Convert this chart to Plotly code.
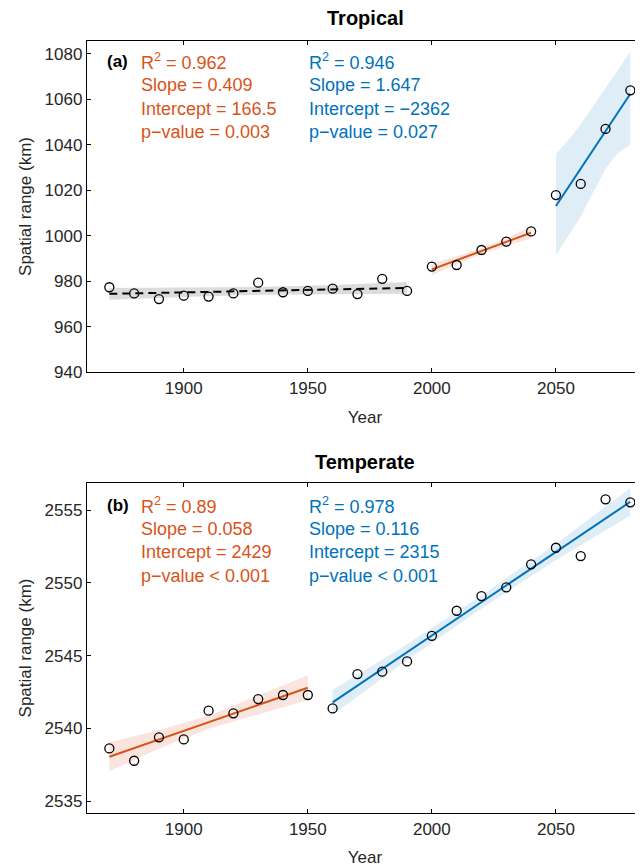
import plotly.graph_objects as go

# ---------------- data ----------------
years = [1870, 1880, 1890, 1900, 1910, 1920, 1930, 1940, 1950, 1960, 1970,
         1980, 1990, 2000, 2010, 2020, 2030, 2040, 2050, 2060, 2070, 2080]

tropical = [977.3, 974.6, 972.1, 973.6, 973.2, 974.6, 979.3, 975.1, 975.7, 976.7, 974.3,
            981.0, 975.7, 986.4, 987.1, 993.7, 997.4, 1001.9, 1017.9, 1022.8, 1047.0, 1064.0]

temperate = [2538.62, 2537.77, 2539.38, 2539.24, 2541.21, 2541.03, 2542.01, 2542.29, 2542.29,
             2541.37, 2543.73, 2543.89, 2544.60, 2546.36, 2548.08, 2549.09, 2549.69, 2551.27,
             2552.41, 2551.84, 2555.74, 2555.53]

# fitted lines (end points) and confidence bands, tropical panel
trop_gray_fit_x = [1870, 1990]
trop_gray_fit_y = [974.4, 977.0]
trop_gray_band_x = [1870, 1900, 1930, 1960, 1990]
trop_gray_band_hi = [977.0, 977.05, 977.4, 978.35, 979.6]
trop_gray_band_lo = [971.8, 973.05, 974.0, 974.35, 974.4]

trop_orange_fit_x = [2000, 2040]
trop_orange_fit_y = [985.2, 1001.3]
trop_orange_band_x = [2000, 2010, 2020, 2030, 2040]
trop_orange_band_hi = [987.8, 990.9, 994.55, 999.0, 1003.9]
trop_orange_band_lo = [982.6, 987.5, 991.95, 995.6, 998.7]

trop_blue_fit_x = [2050, 2080]
trop_blue_fit_y = [1013.1, 1062.5]
trop_blue_band_x = [2050, 2055, 2060, 2065, 2070, 2075, 2080]
trop_blue_band_hi = [1036.0, 1042.0, 1049.0, 1057.0, 1065.0, 1073.0, 1081.0]
trop_blue_band_lo = [991.5, 1000.0, 1008.5, 1019.0, 1029.5, 1036.5, 1040.0]

# temperate panel
temp_orange_fit_x = [1870, 1950]
temp_orange_fit_y = [2538.05, 2542.79]
temp_orange_band_x = [1870, 1890, 1910, 1930, 1950]
temp_orange_band_hi = [2539.05, 2539.89, 2540.87, 2542.25, 2543.64]
temp_orange_band_lo = [2537.05, 2538.59, 2539.97, 2540.95, 2541.94]

temp_blue_fit_x = [1960, 2080]
temp_blue_fit_y = [2541.78, 2555.57]
temp_blue_band_x = [1960, 1990, 2020, 2050, 2080]
temp_blue_band_hi = [2542.63, 2545.78, 2549.13, 2552.67, 2556.52]
temp_blue_band_lo = [2540.93, 2544.68, 2548.23, 2551.57, 2554.62]

trop_stats_orange = ["R<sup>2</sup> = 0.962", "Slope = 0.409", "Intercept = 166.5", "p\u2212value = 0.003"]
trop_stats_blue = ["R<sup>2</sup> = 0.946", "Slope = 1.647", "Intercept = \u22122362", "p\u2212value = 0.027"]
temp_stats_orange = ["R<sup>2</sup> = 0.89", "Slope = 0.058", "Intercept = 2429", "p\u2212value < 0.001"]
temp_stats_blue = ["R<sup>2</sup> = 0.978", "Slope = 0.116", "Intercept = 2315", "p\u2212value < 0.001"]

x_ticks = [1900, 1950, 2000, 2050]
trop_ticks = [940, 960, 980, 1000, 1020, 1040, 1060, 1080]
temp_ticks = [2535, 2540, 2545, 2550, 2555]

# ---------------- styling ----------------
ORANGE = "#D95319"
BLUE = "#0072BD"
FONT = "Liberation Sans, Arial, sans-serif"
OFF = 8                      # page body margin of the browser
W, H = 643 - OFF, 867 - OFF
ML, MR, MT, MB = 87 - OFF, 0, 41 - OFF, 54
PW, PH = W - ML - MR, H - MT - MB


def px_x(p):
    return (p - OFF - ML) / PW


def px_y(p):
    return (H - MB - (p - OFF)) / PH


fig = go.Figure()


def band(x, hi, lo, color, xa, ya):
    fig.add_trace(go.Scatter(x=x + x[::-1], y=hi + lo[::-1], fill="toself",
                             fillcolor=color, line=dict(width=0), mode="lines",
                             hoverinfo="skip", showlegend=False, xaxis=xa, yaxis=ya))


def fit(x, y, color, xa, ya, dash="solid"):
    fig.add_trace(go.Scatter(x=x, y=y, mode="lines", line=dict(color=color, width=2, dash=dash),
                             showlegend=False, xaxis=xa, yaxis=ya))


# Tropical panel
band(trop_gray_band_x, trop_gray_band_hi, trop_gray_band_lo, "#DCDCDC", "x", "y")
band(trop_orange_band_x, trop_orange_band_hi, trop_orange_band_lo, "rgba(217,83,25,0.15)", "x", "y")
band(trop_blue_band_x, trop_blue_band_hi, trop_blue_band_lo, "rgba(0,114,189,0.13)", "x", "y")
fit(trop_gray_fit_x, trop_gray_fit_y, "black", "x", "y", dash="8px,5px")
fit(trop_orange_fit_x, trop_orange_fit_y, ORANGE, "x", "y")
fit(trop_blue_fit_x, trop_blue_fit_y, BLUE, "x", "y")
fig.add_trace(go.Scatter(x=years, y=tropical, mode="markers",
                         marker=dict(symbol="circle-open", size=9, color="black", line=dict(width=1.3)),
                         showlegend=False, xaxis="x", yaxis="y"))

# Temperate panel
band(temp_orange_band_x, temp_orange_band_hi, temp_orange_band_lo, "rgba(217,83,25,0.15)", "x2", "y2")
band(temp_blue_band_x, temp_blue_band_hi, temp_blue_band_lo, "rgba(0,114,189,0.13)", "x2", "y2")
fit(temp_orange_fit_x, temp_orange_fit_y, ORANGE, "x2", "y2")
fit(temp_blue_fit_x, temp_blue_fit_y, BLUE, "x2", "y2")
fig.add_trace(go.Scatter(x=years, y=temperate, mode="markers",
                         marker=dict(symbol="circle-open", size=9, color="black", line=dict(width=1.3)),
                         showlegend=False, xaxis="x2", yaxis="y2"))

axis_common = dict(showline=True, linecolor="black", linewidth=1.3, ticks="inside", ticklen=4,
                   tickcolor="black", showgrid=False, zeroline=False,
                   tickfont=dict(family=FONT, size=17, color="#262626"),
                   title_font=dict(family=FONT, size=17, color="#262626"))

top_dom = [px_y(372), 1.0]
bot_dom = [0.0, px_y(483)]

fig.update_layout(
    width=W, height=H, margin=dict(l=ML, r=MR, t=MT, b=MB),
    paper_bgcolor="white", plot_bgcolor="white",
    font=dict(family=FONT, size=17, color="#262626"),
    xaxis=dict(domain=[0, 1], range=[1861, 2085.1], tickvals=x_ticks, mirror="ticks",
               anchor="y", title=dict(text="Year", standoff=14), **axis_common),
    yaxis=dict(domain=top_dom, range=[940, 1085.7], tickvals=trop_ticks, anchor="x",
               title=dict(text="Spatial range (km)", standoff=8), **axis_common),
    xaxis2=dict(domain=[0, 1], range=[1861, 2085.1], tickvals=x_ticks, mirror="ticks",
                anchor="y2", title=dict(text="Year", standoff=14), **axis_common),
    yaxis2=dict(domain=bot_dom, range=[2534.18, 2556.86], tickvals=temp_ticks, anchor="x2",
                title=dict(text="Spatial range (km)", standoff=8), **axis_common),
)

ann = []
ann.append(dict(text="<b>Tropical</b>", x=0.5, y=px_y(18), xref="paper", yref="paper",
                xanchor="center", yanchor="middle", showarrow=False,
                font=dict(family=FONT, size=20, color="black")))
ann.append(dict(text="<b>Temperate</b>", x=0.5, y=px_y(462), xref="paper", yref="paper",
                xanchor="center", yanchor="middle", showarrow=False,
                font=dict(family=FONT, size=20, color="black")))

for label, ys, orange_lines, blue_lines in [
        ("(a)", [62, 85.5, 109, 132.5], trop_stats_orange, trop_stats_blue),
        ("(b)", [505, 528.5, 552, 575.5], temp_stats_orange, temp_stats_blue)]:
    ann.append(dict(text="<b>%s</b>" % label, x=px_x(105), y=px_y(ys[0]), xref="paper", yref="paper",
                    xanchor="left", yanchor="middle", showarrow=False,
                    font=dict(family=FONT, size=17, color="black")))
    for i in range(4):
        ann.append(dict(text=orange_lines[i], x=px_x(139), y=px_y(ys[i]), xref="paper", yref="paper",
                        xanchor="left", yanchor="middle", showarrow=False,
                        font=dict(family=FONT, size=18, color=ORANGE)))
        ann.append(dict(text=blue_lines[i], x=px_x(307), y=px_y(ys[i]), xref="paper", yref="paper",
                        xanchor="left", yanchor="middle", showarrow=False,
                        font=dict(family=FONT, size=18, color=BLUE)))

fig.update_layout(annotations=ann)
fig.write_html("out.html")
